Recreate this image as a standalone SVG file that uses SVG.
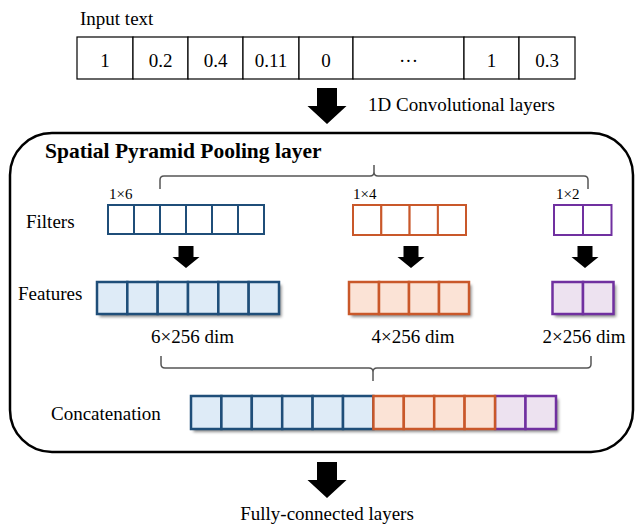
<svg xmlns="http://www.w3.org/2000/svg" width="635" height="524" viewBox="0 0 635 524">
<defs>
<style>
text{font-family:"Liberation Serif","Times New Roman",serif;fill:#000}
.t{font-size:19px}
.s{font-size:15px}
.m{text-anchor:middle}
.in rect{fill:#fff;stroke:#000;stroke-width:1.2}
.fb rect{fill:#fff;stroke:#1f4e79;stroke-width:2}
.fo rect{fill:#fff;stroke:#c9582a;stroke-width:2}
.fp rect{fill:#fff;stroke:#7030a0;stroke-width:2}
.cb rect{fill:#deebf7;stroke:#1f4e79;stroke-width:2.5}
.co rect{fill:#fbe3d6;stroke:#c9582a;stroke-width:2.5}
.cp rect{fill:#ede2f0;stroke:#7030a0;stroke-width:2.5}
.arr{fill:#000}
.brace{fill:none;stroke:#555;stroke-width:1.5}
</style>
<filter id="sh" x="-10%" y="-20%" width="130%" height="160%">
<feDropShadow dx="2.5" dy="3" stdDeviation="1.5" flood-color="#000" flood-opacity="0.45"/>
</filter>
</defs>
<rect width="635" height="524" fill="#fff"/>

<g id="input">
<text class="t" x="80" y="25">Input text</text>
<g class="in">
<rect x="77" y="37" width="56" height="42"/>
<rect x="133" y="37" width="55" height="42"/>
<rect x="188" y="37" width="55" height="42"/>
<rect x="243" y="37" width="56" height="42"/>
<rect x="299" y="37" width="54" height="42"/>
<rect x="353" y="37" width="111" height="42"/>
<rect x="464" y="37" width="55" height="42"/>
<rect x="519" y="37" width="56" height="42"/>
</g>
<g class="t m">
<text class="t m" x="105" y="67">1</text>
<text class="t m" x="160.5" y="67">0.2</text>
<text class="t m" x="215.5" y="67">0.4</text>
<text class="t m" x="271" y="67">0.11</text>
<text class="t m" x="326" y="67">0</text>
<text class="t m" x="408.5" y="67">···</text>
<text class="t m" x="491.5" y="67">1</text>
<text class="t m" x="547" y="67">0.3</text>
</g>
</g>

<g id="spp">
<rect x="10" y="133" width="623" height="319" rx="42" ry="42" fill="none" stroke="#000" stroke-width="2.5"/>
<text x="45" y="158" style="font-size:21.5px;font-weight:bold">Spatial Pyramid Pooling layer</text>
<text class="t" x="26" y="228">Filters</text>
<text class="t" x="18" y="300">Features</text>
<text class="t" x="51" y="420">Concatenation</text>
</g>

<g id="filter-1x6">
<text class="s" x="109" y="199">1×6</text>
<g class="fb">
<rect x="108" y="205" width="26" height="29"/>
<rect x="134" y="205" width="26" height="29"/>
<rect x="160" y="205" width="26" height="29"/>
<rect x="186" y="205" width="26" height="29"/>
<rect x="212" y="205" width="26" height="29"/>
<rect x="238" y="205" width="26" height="29"/>
</g>
</g>
<g id="filter-1x4">
<text class="s" x="353" y="199">1×4</text>
<g class="fo">
<rect x="353" y="205" width="28.3" height="30"/>
<rect x="381.3" y="205" width="28.3" height="30"/>
<rect x="409.6" y="205" width="28.3" height="30"/>
<rect x="437.9" y="205" width="28.1" height="30"/>
</g>
</g>
<g id="filter-1x2">
<text class="s" x="556" y="199">1×2</text>
<g class="fp">
<rect x="554" y="205" width="29" height="30"/>
<rect x="583" y="205" width="28.5" height="30"/>
</g>
</g>

<g id="feature-6">
<rect x="97" y="282" width="182" height="32" fill="#deebf7" filter="url(#sh)"/>
<g class="cb">
<rect x="97" y="282" width="30.33" height="32"/>
<rect x="127.33" y="282" width="30.33" height="32"/>
<rect x="157.67" y="282" width="30.33" height="32"/>
<rect x="188" y="282" width="30.33" height="32"/>
<rect x="218.33" y="282" width="30.33" height="32"/>
<rect x="248.67" y="282" width="30.33" height="32"/>
</g>
<text class="t m" x="192.5" y="343">6×256 dim</text>
</g>
<g id="feature-4">
<rect x="349" y="282" width="120" height="32" fill="#fbe3d6" filter="url(#sh)"/>
<g class="co">
<rect x="349" y="282" width="30" height="32"/>
<rect x="379" y="282" width="30" height="32"/>
<rect x="409" y="282" width="30" height="32"/>
<rect x="439" y="282" width="30" height="32"/>
</g>
<text class="t m" x="413" y="343">4×256 dim</text>
</g>
<g id="feature-2">
<rect x="552.5" y="282" width="61" height="32" fill="#ede2f0" filter="url(#sh)"/>
<g class="cp">
<rect x="552.5" y="282" width="30.5" height="32"/>
<rect x="583" y="282" width="30.5" height="32"/>
</g>
<text class="t m" x="584" y="343">2×256 dim</text>
</g>

<g id="concatenation">
<rect x="191" y="396" width="365" height="33" fill="#deebf7" filter="url(#sh)"/>
<g class="cb">
<rect x="191" y="396" width="30.4" height="33"/>
<rect x="221.4" y="396" width="30.4" height="33"/>
<rect x="251.8" y="396" width="30.4" height="33"/>
<rect x="282.2" y="396" width="30.4" height="33"/>
<rect x="312.6" y="396" width="30.4" height="33"/>
<rect x="343" y="396" width="30.4" height="33"/>
</g>
<g class="cp">
<rect x="495" y="396" width="30.5" height="33"/>
<rect x="525.5" y="396" width="30.5" height="33"/>
</g>
<g class="co">
<rect x="373.4" y="396" width="30.4" height="33"/>
<rect x="403.8" y="396" width="30.4" height="33"/>
<rect x="434.2" y="396" width="30.4" height="33"/>
<rect x="464.6" y="396" width="30.4" height="33"/>
</g>
</g>

<g id="connectors">
<path class="arr" d="M317,88 h20 v18 h9.5 l-19.5,18 l-19.5,-18 h9.5 z"/>
<text class="t" x="368" y="111">1D Convolutional layers</text>
<path class="brace" d="M160,189 v-9 q0,-4 4,-4 h206 q4,0 4,-4 v-7 v7 q0,4 4,4 h206 q4,0 4,4 v9"/>
<path class="arr" d="M178.5,246 h15 v11 h6 l-13.5,11 l-13.5,-11 h6 z"/>
<path class="arr" d="M403.5,246 h15 v11 h6 l-13.5,11 l-13.5,-11 h6 z"/>
<path class="arr" d="M577.5,246 h15 v11 h6 l-13.5,11 l-13.5,-11 h6 z"/>
<path class="brace" d="M161,356 v8 q0,4 4,4 h204 q4,0 4,4 v9 v-9 q0,-4 4,-4 h210 q4,0 4,-4 v-8"/>
<path class="arr" d="M317,462 h20 v18 h9.5 l-19.5,18 l-19.5,-18 h9.5 z"/>
<text class="t m" x="327" y="520">Fully-connected layers</text>
</g>
</svg>
